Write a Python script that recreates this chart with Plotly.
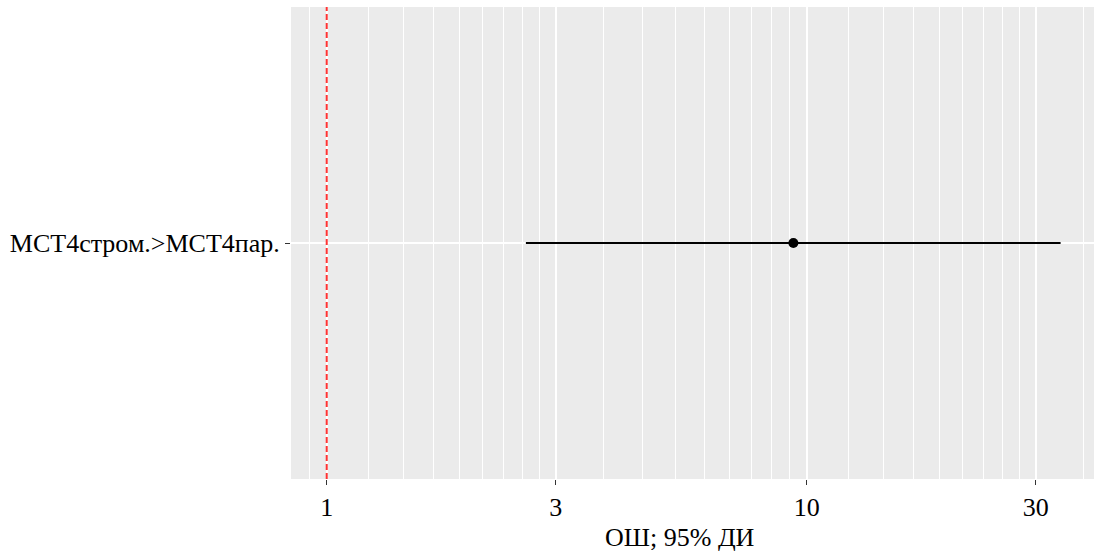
import plotly.graph_objects as go

# Data
categories = ["МСТ4стром.>МСТ4пар."]
or_values = [9.38]
ci_lower = [2.60]
ci_upper = [33.8]
ref_value = 1
x_tick_vals = [1, 3, 10, 30]
x_tick_text = ["1", "3", "10", "30"]
x_title = "ОШ; 95% ДИ"

# minor grid: 8 evenly spaced lines between consecutive breaks
break_seq = [0.3, 1, 3, 10, 30, 100]
minor_vals = []
for a, b in zip(break_seq[:-1], break_seq[1:]):
    step = (b - a) / 9
    minor_vals += [a + step * k for k in range(1, 9)]

FONT = "Liberation Serif, Times New Roman, serif"
FS = 26

fig = go.Figure()

# reference line on an overlay axis spanning the full panel height
fig.add_trace(go.Scatter(x=[ref_value, ref_value], y=[0, 1], yaxis="y2", mode="lines",
                         line=dict(color="#FF3333", width=2, dash="6px,3px"),
                         showlegend=False, hoverinfo="skip"))

for cat, lo, hi in zip(categories, ci_lower, ci_upper):
    fig.add_trace(go.Scatter(x=[lo, hi], y=[cat, cat], mode="lines",
                             line=dict(color="black", width=2),
                             showlegend=False, hoverinfo="skip"))

fig.add_trace(go.Scatter(x=or_values, y=categories, mode="markers",
                         marker=dict(color="black", size=10),
                         showlegend=False))

fig.add_annotation(text=x_title, xref="paper", yref="paper",
                   x=(680 - 291) / (1094 - 291), y=-(537 - 479) / (479 - 7),
                   xanchor="center", yanchor="middle", showarrow=False,
                   font=dict(family=FONT, size=FS, color="black"))

fig.update_layout(
    width=1094, height=553,
    margin=dict(l=291, r=0, t=7, b=74),
    paper_bgcolor="white", plot_bgcolor="#EBEBEB",
    font=dict(family=FONT, size=FS, color="black"),
    xaxis=dict(
        type="log",
        range=[-0.0744, 1.5985],
        tickmode="array", tickvals=x_tick_vals, ticktext=x_tick_text,
        showgrid=True, gridcolor="white", gridwidth=1.6,
        ticks="outside", ticklen=5, tickwidth=1.3, tickcolor="#333333",
        zeroline=False, showline=False,
        tickfont=dict(family=FONT, size=FS, color="black"),
        minor=dict(tickmode="array", tickvals=minor_vals, showgrid=True,
                   gridcolor="white", gridwidth=0.8, ticks=""),
    ),
    yaxis=dict(
        type="category",
        range=[-0.6, 0.6],
        showgrid=True, gridcolor="white", gridwidth=1.6,
        ticks="outside", ticklen=5, tickwidth=1.3, tickcolor="#333333",
        zeroline=False, showline=False,
        tickfont=dict(family=FONT, size=FS, color="black"),
    ),
    yaxis2=dict(overlaying="y", range=[0, 1], visible=False, fixedrange=True),
)

fig.write_html("out.html", config={"displayModeBar": False},
               post_script="document.body.style.margin='0';")
